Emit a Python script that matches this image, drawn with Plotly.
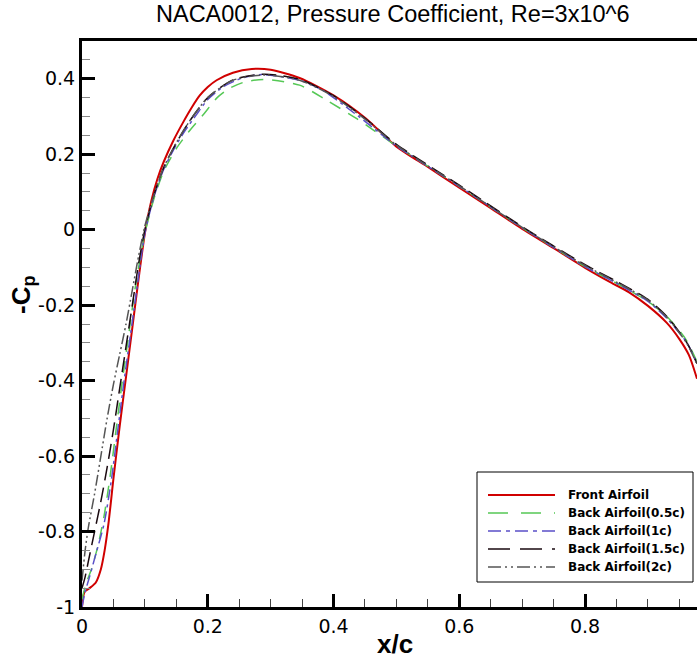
import plotly.graph_objects as go

# ---------------- data (x/c, -Cp) ----------------
front_x = [0.0, 0.004, 0.012, 0.022, 0.03, 0.036, 0.042, 0.05, 0.06, 0.07, 0.08, 0.09, 0.1, 0.11, 0.12, 0.13,
           0.145, 0.161, 0.175, 0.187, 0.2, 0.214, 0.24, 0.27, 0.3, 0.346, 0.4, 0.452, 0.5, 0.55, 0.6, 0.65,
           0.7, 0.75, 0.8, 0.84, 0.87, 0.9, 0.93, 0.95, 0.965, 0.978]
front_y = [-1.0, -0.96, -0.95, -0.935, -0.9, -0.85, -0.78, -0.66, -0.52, -0.39, -0.26, -0.13, -0.01, 0.075, 0.135,
           0.18, 0.235, 0.285, 0.325, 0.355, 0.378, 0.396, 0.416, 0.426, 0.424, 0.402, 0.356, 0.294, 0.22, 0.166,
           0.111, 0.057, 0.002, -0.049, -0.101, -0.139, -0.166, -0.202, -0.247, -0.29, -0.332, -0.395]

b05_x = [0.0, 0.006, 0.015, 0.025, 0.035, 0.045, 0.055, 0.065, 0.075, 0.085, 0.1, 0.115, 0.13, 0.15, 0.17,
         0.193, 0.215, 0.235, 0.26, 0.29, 0.346, 0.389, 0.437, 0.5, 0.6, 0.7, 0.8, 0.85, 0.9, 0.93, 0.96, 0.978]
b05_y = [-0.98, -0.94, -0.9, -0.84, -0.76, -0.65, -0.52, -0.39, -0.27, -0.15, -0.01, 0.085, 0.155, 0.215, 0.26,
         0.305, 0.35, 0.375, 0.392, 0.398, 0.383, 0.343, 0.294, 0.222, 0.115, 0.005, -0.098, -0.142, -0.19,
         -0.23, -0.29, -0.35]

b1_x = [0.0, 0.005, 0.012, 0.022, 0.035, 0.047, 0.057, 0.067, 0.077, 0.087, 0.1, 0.115, 0.13, 0.15, 0.165,
        0.182, 0.2, 0.224, 0.255, 0.288, 0.346, 0.383, 0.44, 0.5, 0.6, 0.7, 0.8, 0.85, 0.9, 0.93, 0.962, 0.978]
b1_y = [-1.0, -0.96, -0.92, -0.86, -0.78, -0.66, -0.53, -0.4, -0.28, -0.16, -0.01, 0.09, 0.16, 0.225, 0.265,
        0.305, 0.345, 0.378, 0.402, 0.411, 0.396, 0.369, 0.3, 0.222, 0.115, 0.005, -0.098, -0.142, -0.19,
        -0.235, -0.3, -0.355]

b15_x = [0.0, 0.005, 0.01, 0.02, 0.03, 0.04, 0.05, 0.06, 0.07, 0.08, 0.09, 0.1, 0.115, 0.13, 0.15, 0.17,
         0.2, 0.24, 0.29, 0.346, 0.4, 0.45, 0.5, 0.6, 0.7, 0.8, 0.85, 0.9, 0.93, 0.962, 0.978]
b15_y = [-0.95, -0.92, -0.88, -0.8, -0.72, -0.63, -0.53, -0.42, -0.31, -0.2, -0.09, 0.0, 0.095, 0.165, 0.23,
         0.285, 0.35, 0.397, 0.412, 0.398, 0.355, 0.295, 0.226, 0.118, 0.008, -0.093, -0.137, -0.185, -0.23,
         -0.3, -0.355]

b2_x = [0.0, 0.005, 0.01, 0.02, 0.03, 0.04, 0.05, 0.06, 0.07, 0.08, 0.09, 0.1, 0.115, 0.13, 0.15, 0.17,
        0.2, 0.24, 0.29, 0.346, 0.4, 0.45, 0.5, 0.6, 0.7, 0.8, 0.85, 0.9, 0.93, 0.962, 0.978]
b2_y = [-0.93, -0.85, -0.79, -0.7, -0.6, -0.5, -0.41, -0.33, -0.25, -0.16, -0.07, 0.01, 0.095, 0.165, 0.23,
        0.285, 0.35, 0.396, 0.41, 0.396, 0.353, 0.293, 0.224, 0.116, 0.006, -0.095, -0.139, -0.187, -0.232,
        -0.302, -0.357]

series_names = ["Front Airfoil", "Back Airfoil(0.5c)", "Back Airfoil(1c)", "Back Airfoil(1.5c)", "Back Airfoil(2c)"]
series_x = [front_x, b05_x, b1_x, b15_x, b2_x]
series_y = [front_y, b05_y, b1_y, b15_y, b2_y]
series_colors = ["#d00000", "#55c855", "#5a4fc8", "#1a0a10", "#555555"]
series_dash = ["solid", "12px,9px", "11px,4px,3px,4px", "15px,7px", "11px,3px,2px,3px,2px,3px"]
series_width = [2, 1.5, 1.5, 1.5, 1.5]
legend_dash = ["solid", "20px,13px", "13px,5px,4px,5px", "22px,10px", "13px,4px,2px,4px,2px,4px"]

x_tickvals = [0, 0.2, 0.4, 0.6, 0.8]
x_ticktext = ["0", "0.2", "0.4", "0.6", "0.8"]
y_tickvals = [-1, -0.8, -0.6, -0.4, -0.2, 0, 0.2, 0.4]
y_ticktext = ["-1", "-0.8", "-0.6", "-0.4", "-0.2", "0", "0.2", "0.4"]

x_range = [0, 0.978]
y_range = [-1, 0.5]

FONT = "Arial, Liberation Sans, sans-serif"
TFONT = "DejaVu Sans, Arial, sans-serif"
LFONT = "DejaVu Sans, Arial, sans-serif"

fig = go.Figure()
for name, xs, ys, c, d, w in zip(series_names, series_x, series_y, series_colors, series_dash, series_width):
    fig.add_trace(go.Scatter(x=xs, y=ys, mode="lines", name=name, showlegend=False,
                             line=dict(color=c, dash=d, width=w, shape="spline", smoothing=0.7)))

# plot-area geometry (pixels)
W, H = 697, 661
ML, MR, MT, MB = 82, 0, 41, 54
PW, PH = W - ML - MR, H - MT - MB


def px(xp):
    return (xp - ML) / PW


def py(yp):
    return (H - MB - yp) / PH


# custom legend box
shapes = [dict(type="rect", xref="paper", yref="paper", x0=px(477), x1=px(693), y0=py(582), y1=py(472),
               line=dict(color="black", width=1), fillcolor="white", layer="above")]
annotations = []
row_y = [495, 513, 531, 549, 567]
for name, c, d, w, ry in zip(series_names, series_colors, legend_dash, series_width, row_y):
    shapes.append(dict(type="line", xref="paper", yref="paper", x0=px(488), x1=px(555), y0=py(ry), y1=py(ry),
                       line=dict(color=c, dash=d, width=w), layer="above"))
    annotations.append(dict(xref="paper", yref="paper", x=px(566), y=py(ry), xanchor="left", yanchor="middle",
                            text="<b>" + name + "</b>", showarrow=False,
                            font=dict(family=LFONT, size=12, color="black")))

# axis titles
annotations.append(dict(xref="paper", yref="paper", x=px(395), y=py(644), xanchor="center", yanchor="middle",
                        text="<b>x/c</b>", showarrow=False, font=dict(family=FONT, size=26, color="black")))
annotations.append(dict(xref="paper", yref="paper", x=px(22), y=py(295), xanchor="center", yanchor="middle",
                        text="<b>-C<sub>p</sub></b>", textangle=-90, showarrow=False,
                        font=dict(family=FONT, size=26, color="black")))
annotations.append(dict(xref="paper", yref="paper", x=px(393), y=py(14), xanchor="center", yanchor="middle",
                        text="NACA0012, Pressure Coefficient, Re=3x10^6", showarrow=False,
                        font=dict(family=FONT, size=23.5, color="black")))

fig.update_layout(
    width=W, height=H,
    margin=dict(l=ML, r=MR, t=MT, b=MB, autoexpand=False),
    paper_bgcolor="white", plot_bgcolor="white",
    showlegend=False,
    shapes=shapes, annotations=annotations,
    font=dict(family=FONT, color="black"),
)
fig.update_xaxes(range=x_range, showgrid=False, zeroline=False, showline=True, linewidth=3, linecolor="black",
                 mirror=True, ticks="inside", ticklen=13, tickwidth=2.5, tickcolor="black", automargin=False,
                 tickmode="array", tickvals=x_tickvals, ticktext=x_ticktext,
                 tickfont=dict(family=TFONT, size=19, color="black"),
                 minor=dict(ticks="inside", ticklen=8, tickwidth=1, tickcolor="#444", dtick=0.05, tick0=0,
                            showgrid=False))
fig.update_yaxes(range=y_range, showgrid=False, zeroline=False, showline=True, linewidth=3, linecolor="black",
                 ticks="inside", ticklen=13, tickwidth=2.5, tickcolor="black", automargin=False,
                 tickmode="array", tickvals=y_tickvals, ticktext=y_ticktext,
                 tickfont=dict(family=TFONT, size=19, color="black"),
                 minor=dict(ticks="inside", ticklen=8, tickwidth=1, tickcolor="#888", dtick=0.05, tick0=0,
                            showgrid=False))

fig.write_html("out.html")
